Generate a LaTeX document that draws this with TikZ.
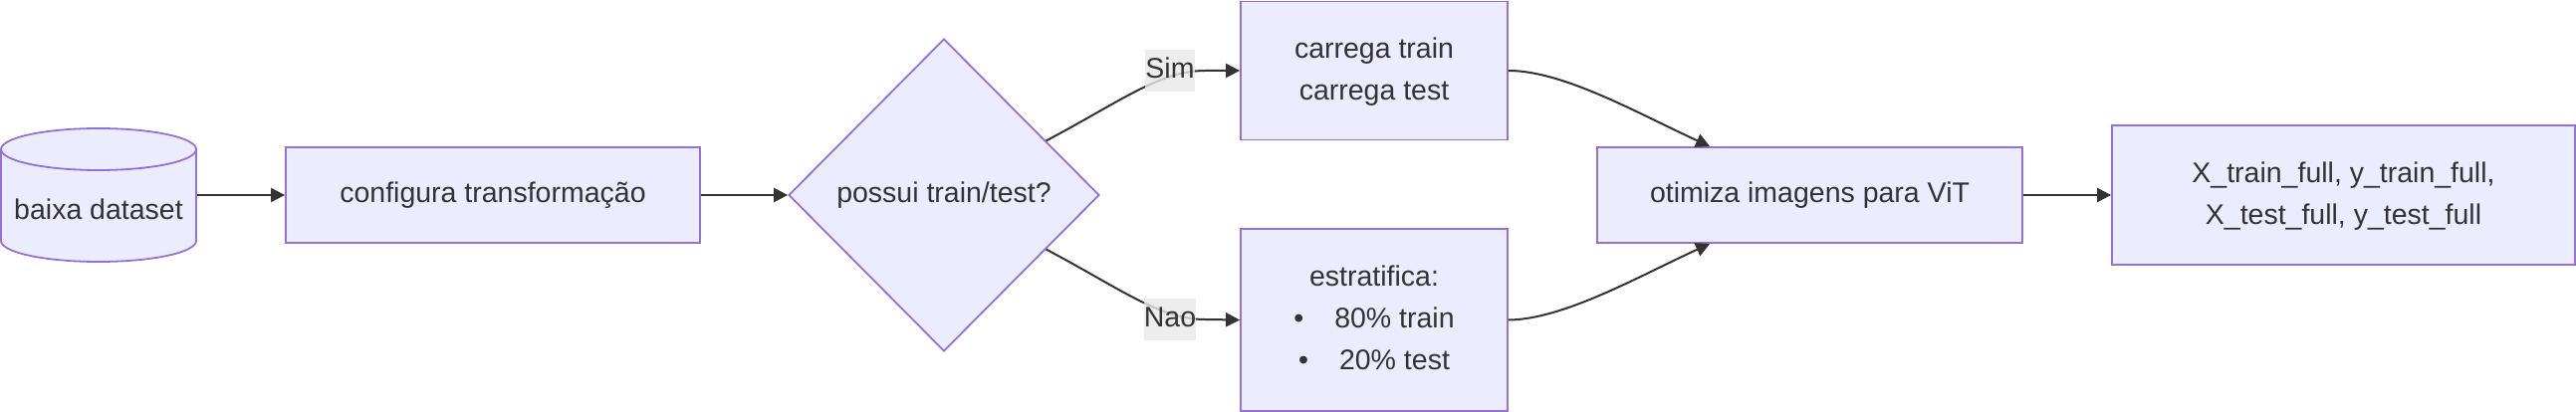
\documentclass[tikz,border=0pt]{standalone}
\usepackage{fontspec}
\setmainfont{Liberation Sans}
\usetikzlibrary{shapes.geometric, arrows.meta}
\definecolor{nodefill}{HTML}{ECECFF}
\definecolor{nodeline}{HTML}{9370DB}
\definecolor{txt}{HTML}{333333}
\definecolor{lblbg}{HTML}{E8E8E8}
\begin{document}
\begin{tikzpicture}[x=1pt, y=-1pt,
  font=\fontsize{28.5}{42}\selectfont, text=txt,
  box/.style={draw=nodeline, fill=nodefill, line width=1.8pt, inner sep=0pt, align=center},
  oneline/.style={text height=20.5pt, text depth=6pt},
  edge/.style={draw=txt, line width=2pt, -{Triangle[length=14pt,width=14pt]}},
  lbl/.style={fill=lblbg, fill opacity=0.8, text opacity=1, inner sep=0pt, minimum height=42pt, oneline}]
\useasboundingbox (0,0) rectangle (2587,414);

% cylinder
\node (db) at (99,196) [minimum width=198pt, minimum height=134pt, inner sep=0pt] {};
\draw[draw=nodeline, fill=nodefill, line width=1.8pt]
  (1,150) -- (1,242) arc[start angle=180, end angle=360, x radius=98pt, y radius=21pt]
  -- (197,150) arc[start angle=0, end angle=180, x radius=98pt, y radius=21pt] -- cycle;
\draw[draw=nodeline, line width=1.8pt]
  (197,150) arc[start angle=0, end angle=-180, x radius=98pt, y radius=21pt];
\node[oneline, inner sep=0pt] (dbl) at (99,213) {baixa dataset};

\node[box, oneline, minimum width=416pt, minimum height=96pt] (cfg) at (495,196) {configura transformação};
\node[box, diamond, oneline, minimum width=312pt, minimum height=314pt] (dec) at (948,196) {possui train/test?};
\node[box, minimum width=268pt, minimum height=139pt] (car) at (1380,71) {\strut carrega train\\carrega test\strut};
\node[box, minimum width=268pt, minimum height=183pt] (est) at (1380,321.5)
  {\strut estratifica:\\•\hspace{31pt}80\% train\\•\hspace{31pt}20\% test\strut};
\node[box, oneline, minimum width=427pt, minimum height=96pt] (opt) at (1817.5,196) {otimiza imagens para ViT};
\node[box, minimum width=465pt, minimum height=140pt] (fin) at (2353.5,196)
  {\strut X\_train\_full, y\_train\_full,\\X\_test\_full, y\_test\_full\strut};

\draw[edge] (db.east) -- (cfg.west);
\draw[edge] (cfg.east) -- (dec.west);
\draw[edge] (dec.28) .. controls (1125,102) and (1165,71) .. (1210,71) -- (car.west);
\draw[edge] (dec.-28) .. controls (1125,290) and (1165,321) .. (1210,321) -- (est.west);
\draw[edge] (car.east) .. controls (1570,71) and (1645,114) .. ([xshift=114pt]opt.north west);
\draw[edge] (est.east) .. controls (1570,321) and (1645,278) .. ([xshift=114pt]opt.south west);
\draw[edge] (opt.east) -- (fin.west);

\node[lbl] (sim) at (1175,71) {Sim};
\node[lbl] (nao) at (1175,321) {Nao};
\end{tikzpicture}
\end{document}
